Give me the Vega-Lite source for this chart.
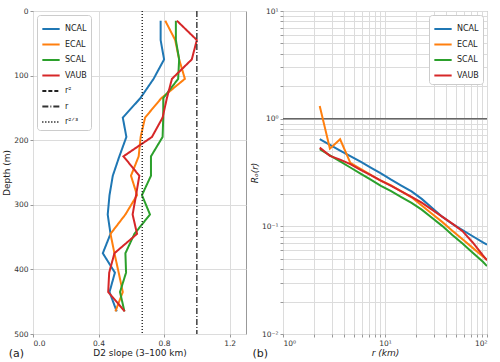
{
  "$schema": "https://vega.github.io/schema/vega-lite/v6.json",
  "padding": {"left": 2, "top": 6, "right": 0, "bottom": 0},
  "spacing": 2,
  "config": {
    "font": "DejaVu Sans",
    "view": {"stroke": "#999", "strokeWidth": 1},
    "axis": {"domain": false, "labelFontSize": 7.5, "labelColor": "#333", "titleFontSize": 9, "titleFontWeight": "normal", "titleColor": "#222", "tickColor": "#999", "tickSize": 3, "labelPadding": 2, "titlePadding": 2, "gridColor": "#dcdcdc", "gridWidth": 1, "labelOverlap": false},
    "legend": {"labelFontSize": 8, "labelColor": "#222", "symbolType": "stroke", "symbolStrokeWidth": 2, "symbolSize": 300, "fillColor": "white", "strokeColor": "#ccc", "cornerRadius": 3, "padding": 4, "rowPadding": 1.5, "title": null, "labelOffset": 4, "offset": 4}
  },
  "resolve": {"scale": {"color": "independent", "strokeDash": "independent", "x": "independent", "y": "independent"}, "legend": {"color": "independent", "strokeDash": "independent"}},
  "hconcat": [
    {
      "width": 213,
      "height": 323,
      "title": {"text": "(a)", "orient": "bottom", "anchor": "start", "fontSize": 11, "fontWeight": "normal", "dx": 6, "dy": -14, "color": "#222"},
      "layer": [
        {
          "data": {"values": [
            {"series": "NCAL", "depth": 15, "slope": 0.779}, {"series": "NCAL", "depth": 45, "slope": 0.779}, {"series": "NCAL", "depth": 75, "slope": 0.80}, {"series": "NCAL", "depth": 105, "slope": 0.736},
            {"series": "NCAL", "depth": 135, "slope": 0.655}, {"series": "NCAL", "depth": 165, "slope": 0.548}, {"series": "NCAL", "depth": 195, "slope": 0.57}, {"series": "NCAL", "depth": 225, "slope": 0.527},
            {"series": "NCAL", "depth": 255, "slope": 0.487}, {"series": "NCAL", "depth": 285, "slope": 0.467}, {"series": "NCAL", "depth": 315, "slope": 0.456}, {"series": "NCAL", "depth": 345, "slope": 0.473},
            {"series": "NCAL", "depth": 375, "slope": 0.426}, {"series": "NCAL", "depth": 405, "slope": 0.50}, {"series": "NCAL", "depth": 435, "slope": 0.467}, {"series": "NCAL", "depth": 465, "slope": 0.511},
            {"series": "ECAL", "depth": 15, "slope": 0.807}, {"series": "ECAL", "depth": 45, "slope": 0.868}, {"series": "ECAL", "depth": 75, "slope": 0.892}, {"series": "ECAL", "depth": 105, "slope": 0.927},
            {"series": "ECAL", "depth": 135, "slope": 0.783}, {"series": "ECAL", "depth": 165, "slope": 0.684}, {"series": "ECAL", "depth": 195, "slope": 0.657}, {"series": "ECAL", "depth": 225, "slope": 0.645},
            {"series": "ECAL", "depth": 255, "slope": 0.598}, {"series": "ECAL", "depth": 285, "slope": 0.635}, {"series": "ECAL", "depth": 315, "slope": 0.564}, {"series": "ECAL", "depth": 345, "slope": 0.473},
            {"series": "ECAL", "depth": 375, "slope": 0.497}, {"series": "ECAL", "depth": 405, "slope": 0.523}, {"series": "ECAL", "depth": 435, "slope": 0.548}, {"series": "ECAL", "depth": 465, "slope": 0.503},
            {"series": "SCAL", "depth": 15, "slope": 0.872}, {"series": "SCAL", "depth": 45, "slope": 0.872}, {"series": "SCAL", "depth": 75, "slope": 0.892}, {"series": "SCAL", "depth": 105, "slope": 0.886},
            {"series": "SCAL", "depth": 135, "slope": 0.795}, {"series": "SCAL", "depth": 165, "slope": 0.795}, {"series": "SCAL", "depth": 195, "slope": 0.791}, {"series": "SCAL", "depth": 225, "slope": 0.72},
            {"series": "SCAL", "depth": 255, "slope": 0.72}, {"series": "SCAL", "depth": 285, "slope": 0.665}, {"series": "SCAL", "depth": 315, "slope": 0.714}, {"series": "SCAL", "depth": 345, "slope": 0.619},
            {"series": "SCAL", "depth": 375, "slope": 0.564}, {"series": "SCAL", "depth": 405, "slope": 0.568}, {"series": "SCAL", "depth": 435, "slope": 0.531}, {"series": "SCAL", "depth": 465, "slope": 0.558},
            {"series": "VAUB", "depth": 15, "slope": 0.878}, {"series": "VAUB", "depth": 45, "slope": 1.0}, {"series": "VAUB", "depth": 75, "slope": 0.969}, {"series": "VAUB", "depth": 105, "slope": 0.848},
            {"series": "VAUB", "depth": 135, "slope": 0.817}, {"series": "VAUB", "depth": 165, "slope": 0.791}, {"series": "VAUB", "depth": 195, "slope": 0.726}, {"series": "VAUB", "depth": 225, "slope": 0.552},
            {"series": "VAUB", "depth": 255, "slope": 0.649}, {"series": "VAUB", "depth": 285, "slope": 0.629}, {"series": "VAUB", "depth": 315, "slope": 0.608}, {"series": "VAUB", "depth": 345, "slope": 0.635},
            {"series": "VAUB", "depth": 375, "slope": 0.497}, {"series": "VAUB", "depth": 405, "slope": 0.465}, {"series": "VAUB", "depth": 435, "slope": 0.459}, {"series": "VAUB", "depth": 465, "slope": 0.56}
          ]},
          "mark": {"type": "line", "strokeWidth": 2, "clip": true},
          "encoding": {
            "x": {"field": "slope", "type": "quantitative", "scale": {"domain": [0, 1.3], "nice": false}, "axis": {"title": "D2 slope (3–100 km)", "values": [0, 0.2, 0.4, 0.6, 0.8, 1.0, 1.2], "format": ".1f"}},
            "y": {"field": "depth", "type": "quantitative", "scale": {"domain": [0, 500], "reverse": true, "nice": false}, "axis": {"title": "Depth (m)", "values": [0, 100, 200, 300, 400, 500]}},
            "order": {"field": "depth", "type": "quantitative"},
            "color": {"field": "series", "type": "nominal", "scale": {"domain": ["NCAL", "ECAL", "SCAL", "VAUB", "r²", "r", "r²ᐟ³"], "range": ["#1f77b4", "#ff7f0e", "#2ca02c", "#d62728", "#222222", "#333333", "#222222"]}, "legend": {"orient": "top-left"}},
            "strokeDash": {"field": "series", "type": "nominal", "scale": {"domain": ["NCAL", "ECAL", "SCAL", "VAUB", "r²", "r", "r²ᐟ³"], "range": [[1, 0], [1, 0], [1, 0], [1, 0], [4, 2], [6, 2, 1, 2], [1, 2]]}, "legend": {"orient": "top-left"}}
          }
        },
        {
          "data": {"values": [{"series": "r", "slope": 1.0}, {"series": "r²ᐟ³", "slope": 0.6667}]},
          "mark": {"type": "rule", "strokeWidth": 1.4},
          "encoding": {
            "x": {"field": "slope", "type": "quantitative"},
            "color": {"field": "series", "type": "nominal"},
            "strokeDash": {"field": "series", "type": "nominal"}
          }
        }
      ]
    },
    {
      "width": 204,
      "height": 323,
      "title": {"text": "(b)", "orient": "bottom", "anchor": "start", "fontSize": 11, "fontWeight": "normal", "dx": 2, "dy": -14, "color": "#222"},
      "layer": [
        {
          "data": {"values": [{"ref": 1}]},
          "mark": {"type": "rule", "color": "#666", "strokeWidth": 1.5},
          "encoding": {"y": {"field": "ref", "type": "quantitative", "scale": {"type": "log", "domain": [0.01, 10], "nice": false}}}
        },
        {
          "data": {"values": [
            {"site": "NCAL", "r": 2.291, "R": 0.6457}, {"site": "NCAL", "r": 2.884, "R": 0.5715}, {"site": "NCAL", "r": 3.631, "R": 0.5058}, {"site": "NCAL", "r": 4.571, "R": 0.4477},
            {"site": "NCAL", "r": 5.754, "R": 0.3981}, {"site": "NCAL", "r": 7.244, "R": 0.3516}, {"site": "NCAL", "r": 9.12, "R": 0.3105}, {"site": "NCAL", "r": 11.48, "R": 0.2716},
            {"site": "NCAL", "r": 14.45, "R": 0.2393}, {"site": "NCAL", "r": 18.2, "R": 0.2109}, {"site": "NCAL", "r": 22.91, "R": 0.1799}, {"site": "NCAL", "r": 28.84, "R": 0.1486},
            {"site": "NCAL", "r": 36.31, "R": 0.123}, {"site": "NCAL", "r": 45.71, "R": 0.1052}, {"site": "NCAL", "r": 57.54, "R": 0.0923}, {"site": "NCAL", "r": 72.44, "R": 0.0809},
            {"site": "NCAL", "r": 91.2, "R": 0.0711}, {"site": "NCAL", "r": 100, "R": 0.0676},
            {"site": "ECAL", "r": 2.291, "R": 1.312}, {"site": "ECAL", "r": 2.884, "R": 0.527}, {"site": "ECAL", "r": 3.631, "R": 0.644}, {"site": "ECAL", "r": 4.571, "R": 0.389},
            {"site": "ECAL", "r": 5.754, "R": 0.341}, {"site": "ECAL", "r": 7.244, "R": 0.300}, {"site": "ECAL", "r": 9.12, "R": 0.265}, {"site": "ECAL", "r": 11.48, "R": 0.240},
            {"site": "ECAL", "r": 14.45, "R": 0.211}, {"site": "ECAL", "r": 18.2, "R": 0.186}, {"site": "ECAL", "r": 22.91, "R": 0.156}, {"site": "ECAL", "r": 28.84, "R": 0.131},
            {"site": "ECAL", "r": 36.31, "R": 0.110}, {"site": "ECAL", "r": 45.71, "R": 0.0912}, {"site": "ECAL", "r": 57.54, "R": 0.0759}, {"site": "ECAL", "r": 72.44, "R": 0.0631},
            {"site": "ECAL", "r": 91.2, "R": 0.0525}, {"site": "ECAL", "r": 100, "R": 0.049},
            {"site": "SCAL", "r": 2.291, "R": 0.520}, {"site": "SCAL", "r": 2.884, "R": 0.457}, {"site": "SCAL", "r": 3.631, "R": 0.401}, {"site": "SCAL", "r": 4.571, "R": 0.352},
            {"site": "SCAL", "r": 5.754, "R": 0.309}, {"site": "SCAL", "r": 7.244, "R": 0.271}, {"site": "SCAL", "r": 9.12, "R": 0.238}, {"site": "SCAL", "r": 11.48, "R": 0.212},
            {"site": "SCAL", "r": 14.45, "R": 0.187}, {"site": "SCAL", "r": 18.2, "R": 0.165}, {"site": "SCAL", "r": 22.91, "R": 0.143}, {"site": "SCAL", "r": 28.84, "R": 0.120},
            {"site": "SCAL", "r": 36.31, "R": 0.101}, {"site": "SCAL", "r": 45.71, "R": 0.0832}, {"site": "SCAL", "r": 57.54, "R": 0.0692}, {"site": "SCAL", "r": 72.44, "R": 0.0569},
            {"site": "SCAL", "r": 91.2, "R": 0.0468}, {"site": "SCAL", "r": 100, "R": 0.0427},
            {"site": "VAUB", "r": 2.291, "R": 0.538}, {"site": "VAUB", "r": 2.884, "R": 0.451}, {"site": "VAUB", "r": 3.631, "R": 0.417}, {"site": "VAUB", "r": 4.571, "R": 0.378},
            {"site": "VAUB", "r": 5.754, "R": 0.335}, {"site": "VAUB", "r": 7.244, "R": 0.299}, {"site": "VAUB", "r": 9.12, "R": 0.266}, {"site": "VAUB", "r": 11.48, "R": 0.237},
            {"site": "VAUB", "r": 14.45, "R": 0.211}, {"site": "VAUB", "r": 18.2, "R": 0.188}, {"site": "VAUB", "r": 22.91, "R": 0.166}, {"site": "VAUB", "r": 28.84, "R": 0.143},
            {"site": "VAUB", "r": 36.31, "R": 0.123}, {"site": "VAUB", "r": 45.71, "R": 0.106}, {"site": "VAUB", "r": 57.54, "R": 0.0902}, {"site": "VAUB", "r": 72.44, "R": 0.0708},
            {"site": "VAUB", "r": 91.2, "R": 0.0537}, {"site": "VAUB", "r": 100, "R": 0.0484}
          ]},
          "mark": {"type": "line", "strokeWidth": 2, "clip": true},
          "encoding": {
            "x": {"field": "r", "type": "quantitative", "scale": {"type": "log", "domain": [1, 100], "nice": false},
                  "axis": {"title": "r (km)", "titleFontStyle": "italic", "values": [1, 2, 3, 4, 5, 6, 7, 8, 9, 10, 20, 30, 40, 50, 60, 70, 80, 90, 100],
                           "labelExpr": "datum.value == 1 ? '10⁰' : datum.value == 10 ? '10¹' : datum.value == 100 ? '10²' : ''"}},
            "y": {"field": "R", "type": "quantitative", "scale": {"type": "log", "domain": [0.01, 10], "nice": false},
                  "axis": {"title": "Rₒ(r)", "titleFontStyle": "italic", "values": [0.01, 0.02, 0.03, 0.04, 0.05, 0.06, 0.07, 0.08, 0.09, 0.1, 0.2, 0.3, 0.4, 0.5, 0.6, 0.7, 0.8, 0.9, 1, 2, 3, 4, 5, 6, 7, 8, 9, 10],
                           "labelExpr": "datum.value == 0.01 ? '10⁻²' : datum.value == 0.1 ? '10⁻¹' : datum.value == 1 ? '10⁰' : datum.value == 10 ? '10¹' : ''"}},
            "order": {"field": "r", "type": "quantitative"},
            "color": {"field": "site", "type": "nominal", "scale": {"domain": ["NCAL", "ECAL", "SCAL", "VAUB"], "range": ["#1f77b4", "#ff7f0e", "#2ca02c", "#d62728"]}, "legend": {"orient": "top-right"}}
          }
        }
      ]
    }
  ]
}
